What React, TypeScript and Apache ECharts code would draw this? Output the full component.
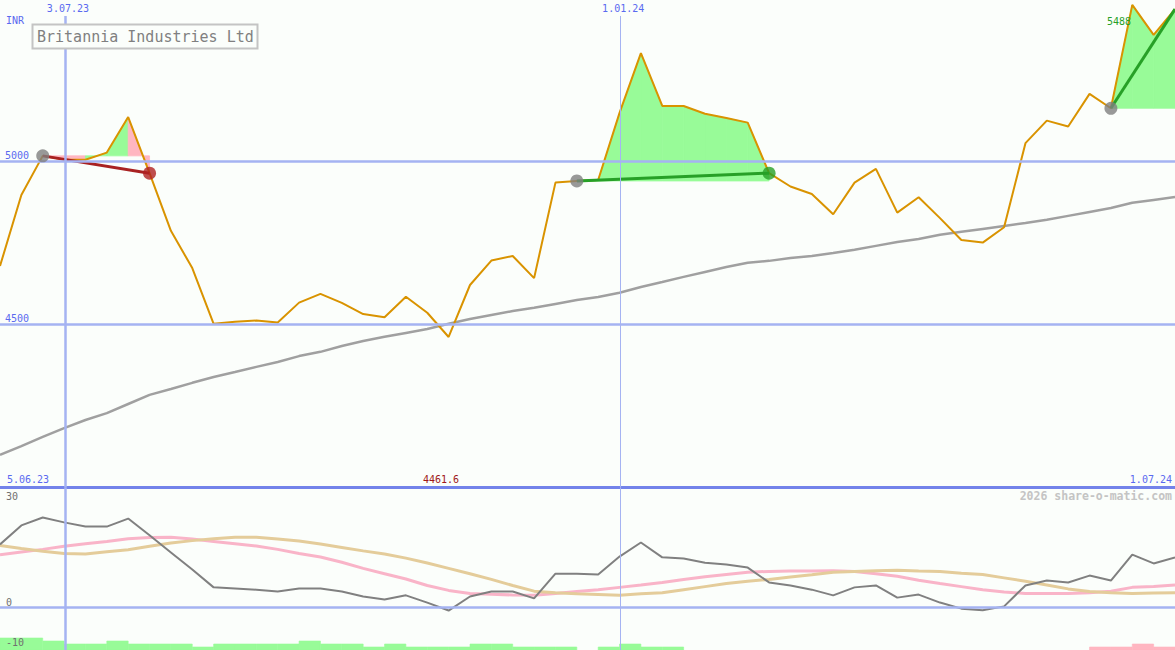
import React, { useEffect, useRef } from "react";
import * as echarts from "echarts";

// Weekly closing prices (INR), one per week from the left edge to the right edge
const priceClose = [
  4679, 4897, 5017, 5006, 5005, 5027, 5136, 4964, 4787, 4673,
  4502, 4508, 4512, 4506, 4567, 4594, 4566, 4532, 4522, 4585,
  4536, 4461.6, 4621, 4696, 4710, 4642, 4935, 4940, 4943, 5149,
  5332, 5170, 5170, 5146, 5133, 5119, 4964, 4923, 4900, 4838,
  4935, 4977, 4843, 4890, 4826, 4759, 4751, 4798, 5056, 5125,
  5107, 5207, 5163, 5480, 5388, 5467,
];

// Long moving average (grey line)
const movingAverage = [
  4100, 4127, 4155, 4182, 4207, 4228, 4256, 4284, 4302, 4321,
  4339, 4354, 4370, 4385, 4403, 4416, 4434, 4449, 4462, 4474,
  4486, 4502, 4517, 4529, 4541, 4551, 4563, 4575, 4584, 4597,
  4615, 4630, 4646, 4661, 4676, 4689, 4695, 4704, 4710, 4719,
  4729, 4741, 4753, 4762, 4775, 4784, 4793, 4802, 4811, 4821,
  4833, 4845, 4857, 4873, 4882, 4891,
];

// Lower panel: oscillator (grey) and its two smoothed lines
const oscillator = [
  16.6, 21.6, 23.7, 22.4, 21.3, 21.3, 23.4, 19, 14.5, 10,
  5.3, 5, 4.7, 4.2, 5, 5, 4.2, 2.9, 2.1, 3.2,
  1.3, -0.8, 2.9, 4.2, 4.2, 2.4, 8.9, 8.9, 8.7, 13.4,
  17.1, 13.2, 12.9, 11.8, 11.3, 10.5, 6.6, 5.8, 4.7, 3.2,
  5.3, 5.8, 2.6, 3.4, 1.3, -0.3, -0.7, 0.3, 5.8, 7.1,
  6.6, 8.4, 7.1, 13.9, 11.6, 13.2,
];
const smoothPink = [
  13.9, 14.6, 15.3, 16.1, 16.8, 17.4, 18.1, 18.4, 18.5, 18.0,
  17.4, 16.8, 16.2, 15.3, 14.2, 13.3, 11.9, 10.3, 8.9, 7.5,
  5.8, 4.5, 3.7, 3.5, 3.3, 3.2, 3.7, 4.2, 4.7, 5.3,
  5.9, 6.6, 7.4, 8.1, 8.7, 9.3, 9.5, 9.6, 9.6, 9.7,
  9.5, 8.9, 8.2, 7.2, 6.3, 5.5, 4.7, 4.1, 3.7, 3.7,
  3.7, 3.9, 4.3, 5.3, 5.5, 5.9,
];
const smoothTan = [
  16.3, 15.5, 14.8, 14.2, 14.1, 14.7, 15.2, 16.1, 17.0, 17.6,
  18.1, 18.5, 18.5, 18.0, 17.5, 16.7, 15.8, 14.9, 14.1, 13.0,
  11.7, 10.3, 8.9, 7.4, 5.8, 4.3, 3.9, 3.6, 3.4, 3.2,
  3.6, 3.9, 4.7, 5.5, 6.3, 6.9, 7.4, 8.0, 8.6, 9.3,
  9.5, 9.7, 9.8, 9.6, 9.5, 9.0, 8.7, 7.8, 6.9, 5.9,
  4.9, 4.2, 3.9, 3.7, 3.8, 3.9,
];
// Bottom strip: per-week bar level (positive = green, negative = pink)
const stripLevels = [
  4, 4, 3, 2, 2, 3, 2, 2, 2, 1,
  2, 2, 2, 2, 3, 2, 2, 1, 2, 1,
  1, 1, 2, 2, 1, 1, 1, 0, 1, 2,
  1, 1, 0, 0, 0, 0, 0, 0, 0, 0,
  0, 0, 0, 0, 0, 0, 0, 0, 0, 0,
  0, -1, -1, -2, -1,
];

// Signals: start week, end week, colour of each filled segment (1 = green, 0 = pink)
const signalStarts = [2, 27, 52];
const signalEnds = [7, 36, 55];
const signalSegments = [
  [0, 0, 1, 1, 0],
  [1, 1, 1, 1, 1, 1, 1, 1, 1],
  [1, 1, 1],
];
const signalOutcome = ["loss", "win", "open"];

// Date grid lines (week position) and texts
const dateLineWeeks = [3.04, 29.03];
const dateLineLabels = ["3.07.23", "1.01.24"];
const priceLevels = [4500, 5000];
const rangeStartLabel = "5.06.23";
const rangeEndLabel = "1.07.24";
const highLabel = "5488";
const title = "Britannia Industries Ltd";
const currency = "INR";
const watermark = "2026 share-o-matic.com";
const oscLabels = ["30", "0", "-10"];

const MONO = '"DejaVu Sans Mono", monospace';
const BG = "#fbfefb";
const GRID_BLUE = "#a5b3f2";
const LABEL_BLUE = "#5a6af0";
const GREEN_FILL = "#98fb98";
const PINK_FILL = "#ffb6c1";
const SIG_GREEN = "#27a027";
const SIG_RED = "#a82222";

export default function App() {
  const ref = useRef<HTMLDivElement>(null);

  useEffect(() => {
    if (!ref.current) return;
    const chart = echarts.init(ref.current, null, { renderer: "svg" });

    const weeks = priceClose.map((_, i) => i);
    const minPrice = Math.min(...priceClose);

    const fillData: number[][] = [];
    signalStarts.forEach((s, k) => {
      signalSegments[k].forEach((c, j) => {
        const i = s + j;
        fillData.push([i, priceClose[i], priceClose[i + 1], priceClose[s], c]);
      });
    });

    const stripData = stripLevels.map((v, i) => [i, v]);

    const signalLineSeries = signalStarts.map((s, k) => ({
      type: "line",
      xAxisIndex: 0,
      yAxisIndex: 0,
      data: [
        [s, priceClose[s]],
        [signalEnds[k], priceClose[signalEnds[k]]],
      ],
      symbol: "none",
      lineStyle: { color: signalOutcome[k] === "loss" ? SIG_RED : SIG_GREEN, width: 3 },
      z: 4,
      silent: true,
    }));

    const markerData: any[] = [];
    signalStarts.forEach((s, k) => {
      markerData.push({ value: [s, priceClose[s]], itemStyle: { color: "#808080" } });
      if (signalOutcome[k] !== "open") {
        const e = signalEnds[k];
        markerData.push({
          value: [e, priceClose[e]],
          itemStyle: { color: signalOutcome[k] === "loss" ? "#b02222" : SIG_GREEN },
        });
      }
    });

    const option: any = {
      animation: false,
      backgroundColor: BG,
      grid: [
        { left: 0, right: 0, top: 0, height: 487.5 },
        { left: 0, right: 0, top: 487.5, height: 162.5 },
      ],
      xAxis: [
        {
          type: "value",
          gridIndex: 0,
          min: 0,
          max: weeks.length - 1,
          axisLine: { show: true, onZero: false, lineStyle: { color: "#7383ea", width: 3 } },
          axisTick: { show: false },
          axisLabel: { show: false },
          splitLine: { show: false },
        },
        { type: "value", gridIndex: 1, min: 0, max: weeks.length - 1, show: false, splitLine: { show: false } },
      ],
      yAxis: [
        { type: "value", gridIndex: 0, min: 4000, max: 5495, show: false, splitLine: { show: false } },
        { type: "value", gridIndex: 1, min: -11.18, max: 31.58, show: false, splitLine: { show: false } },
        { type: "value", gridIndex: 1, min: 0, max: 54.17, show: false, splitLine: { show: false } },
      ],
      series: [
        {
          type: "line",
          xAxisIndex: 0,
          yAxisIndex: 0,
          data: movingAverage.map((v, i) => [weeks[i], v]),
          symbol: "none",
          lineStyle: { color: "#a0a0a0", width: 2.5 },
          z: 1,
          silent: true,
          markLine: {
            silent: true,
            symbol: ["none", "none"],
            data: [
              ...priceLevels.map((v) => ({
                yAxis: v,
                lineStyle: { color: GRID_BLUE, width: 2.5, type: "solid" },
                label: {
                  show: true,
                  position: "insideStartTop",
                  formatter: String(v),
                  color: LABEL_BLUE,
                  fontSize: 10,
                  fontFamily: MONO,
                  distance: [5, 1],
                },
              })),
              ...dateLineWeeks.map((w, k) => [
                {
                  coord: [w, 5446],
                  name: dateLineLabels[k],
                  lineStyle: { color: GRID_BLUE, width: k === 0 ? 2.5 : 1, type: "solid" },
                  label: {
                    show: true,
                    position: "start",
                    formatter: "{b}",
                    color: LABEL_BLUE,
                    fontSize: 10,
                    fontFamily: MONO,
                    distance: 2,
                    offset: [3, 0],
                  },
                },
                { coord: [w, 4000] },
              ]),
            ],
          },
        },
        {
          type: "custom",
          xAxisIndex: 0,
          yAxisIndex: 0,
          data: fillData,
          encode: { x: 0, y: 1 },
          z: 2,
          silent: true,
          renderItem: (params: any, api: any) => {
            const i = api.value(0);
            const a = api.coord([i, api.value(1)]);
            const b = api.coord([i + 1, api.value(2)]);
            const c = api.coord([i + 1, api.value(3)]);
            const d = api.coord([i, api.value(3)]);
            const col = api.value(4) === 1 ? GREEN_FILL : PINK_FILL;
            return {
              type: "polygon",
              shape: { points: [a, b, c, d] },
              style: { fill: col, stroke: col, lineWidth: 0.8 },
            };
          },
        },
        {
          type: "line",
          xAxisIndex: 0,
          yAxisIndex: 0,
          data: priceClose.map((v, i) => [weeks[i], v]),
          symbol: "none",
          lineStyle: { color: "#d99300", width: 2 },
          z: 3,
          silent: true,
        },
        ...signalLineSeries,
        {
          type: "scatter",
          xAxisIndex: 0,
          yAxisIndex: 0,
          data: markerData,
          symbol: "circle",
          symbolSize: 13,
          z: 5,
          silent: true,
        },
        {
          type: "line",
          xAxisIndex: 1,
          yAxisIndex: 1,
          data: smoothPink.map((v, i) => [weeks[i], v]),
          symbol: "none",
          lineStyle: { color: "#f9b4c8", width: 3 },
          z: 2,
          silent: true,
          markLine: {
            silent: true,
            symbol: ["none", "none"],
            label: { show: false },
            data: [
              { yAxis: 0, lineStyle: { color: GRID_BLUE, width: 2.5, type: "solid" } },
              ...dateLineWeeks.map((w, k) => ({
                xAxis: w,
                lineStyle: { color: GRID_BLUE, width: k === 0 ? 2.5 : 1, type: "solid" },
              })),
            ],
          },
        },
        {
          type: "line",
          xAxisIndex: 1,
          yAxisIndex: 1,
          data: smoothTan.map((v, i) => [weeks[i], v]),
          symbol: "none",
          lineStyle: { color: "#e4cc9a", width: 3 },
          z: 2,
          silent: true,
        },
        {
          type: "line",
          xAxisIndex: 1,
          yAxisIndex: 1,
          data: oscillator.map((v, i) => [weeks[i], v]),
          symbol: "none",
          lineStyle: { color: "#808080", width: 2 },
          z: 3,
          silent: true,
        },
        {
          type: "custom",
          xAxisIndex: 1,
          yAxisIndex: 2,
          data: stripData,
          encode: { x: 0, y: 1 },
          z: 4,
          silent: true,
          renderItem: (params: any, api: any) => {
            const i = api.value(0);
            const v = api.value(1);
            if (!v) return null;
            const a = api.coord([i, Math.abs(v)]);
            const b = api.coord([i + 1, 0]);
            const col = v > 0 ? GREEN_FILL : PINK_FILL;
            return {
              type: "rect",
              shape: { x: a[0], y: a[1], width: b[0] - a[0], height: b[1] - a[1] },
              style: { fill: col, stroke: col, lineWidth: 0.6 },
            };
          },
        },
      ],
      graphic: [
        {
          type: "rect",
          shape: { x: 32.5, y: 24.5, width: 225, height: 24 },
          style: { fill: BG, stroke: "#c4c4c4", lineWidth: 2 },
          z: 10,
        },
        {
          type: "text",
          x: 37,
          y: 36.5,
          z: 11,
          style: { text: title, fill: "#808080", font: `15px ${MONO}`, verticalAlign: "middle", align: "left" },
        },
        {
          type: "text",
          x: 6,
          y: 20,
          z: 11,
          style: { text: currency, fill: LABEL_BLUE, font: `10px ${MONO}`, verticalAlign: "middle", align: "left" },
        },
        {
          type: "text",
          x: 7,
          y: 479,
          z: 11,
          style: { text: rangeStartLabel, fill: LABEL_BLUE, font: `10px ${MONO}`, verticalAlign: "middle", align: "left" },
        },
        {
          type: "text",
          x: 441,
          y: 479,
          z: 11,
          style: {
            text: minPrice.toFixed(1),
            fill: "#a01818",
            font: `10px ${MONO}`,
            verticalAlign: "middle",
            align: "center",
          },
        },
        {
          type: "text",
          x: 1172,
          y: 479,
          z: 11,
          style: { text: rangeEndLabel, fill: LABEL_BLUE, font: `10px ${MONO}`, verticalAlign: "middle", align: "right" },
        },
        {
          type: "text",
          x: 1172,
          y: 496,
          z: 11,
          style: {
            text: watermark,
            fill: "#c4c4c4",
            font: `bold 11.5px ${MONO}`,
            verticalAlign: "middle",
            align: "right",
          },
        },
        {
          type: "text",
          x: 1107,
          y: 21,
          z: 11,
          style: { text: highLabel, fill: SIG_GREEN, font: `10px ${MONO}`, verticalAlign: "middle", align: "left" },
        },
        ...oscLabels.map((t, k) => ({
          type: "text",
          x: 6,
          y: [496, 602, 642][k],
          z: 11,
          style: { text: t, fill: "#707070", font: `10px ${MONO}`, verticalAlign: "middle", align: "left" },
        })),
      ],
    };

    chart.setOption(option);
    return () => chart.dispose();
  }, []);

  return (
    <div
      ref={ref}
      style={{ position: "absolute", left: 0, top: 0, width: 1175, height: 650 }}
    />
  );
}
